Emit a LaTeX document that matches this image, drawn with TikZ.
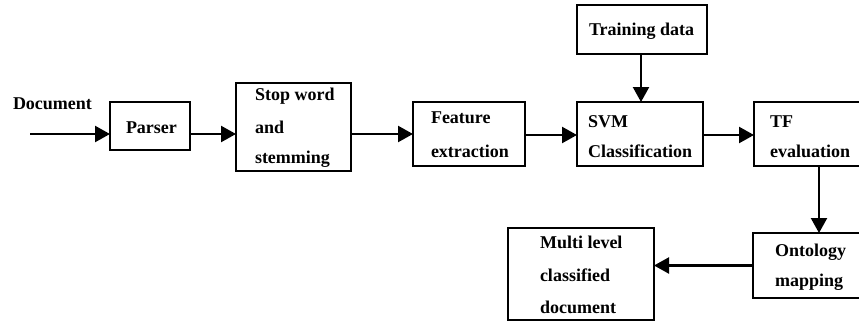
\documentclass[tikz,border=0pt]{standalone}
\usepackage{fontspec}
\setmainfont{Liberation Serif}
\usetikzlibrary{arrows.meta}
\begin{document}
\begin{tikzpicture}[x=1pt,y=-1pt,
  box/.style={draw, line width=2.6pt, minimum width=#1, inner sep=0pt, outer sep=0pt},
  txt/.style={anchor=base west, inner sep=0pt, outer sep=0pt, font=\bfseries\fontsize{18}{22}\selectfont},
  arr/.style={line width=2.3pt, -{Triangle[length=15pt,width=16pt]}}]
\useasboundingbox (0,0) rectangle (859,324);
\clip (0,0) rectangle (859,324);
% boxes
\node[box=80pt, minimum height=48pt] (parser) at (150,126) {};
\node[box=115pt, minimum height=88pt] (stop) at (293.5,127) {};
\node[box=112pt, minimum height=64pt] (feat) at (469,134) {};
\node[box=126pt, minimum height=64pt] (svm) at (640,134) {};
\node[box=130pt, minimum height=49pt] (train) at (642,29.5) {};
\node[box=132pt, minimum height=64pt] (tf) at (820,134) {};
\node[box=132pt, minimum height=65pt] (onto) at (819,265.5) {};
\node[box=146pt, minimum height=92pt] (multi) at (581,274) {};
% texts
\node[txt] (tdoc) at (13,109.5) {Document};
\node[txt] (tparser) at (126,133) {Parser};
\node[txt] (tstop1) at (255,100) {Stop word};
\node[txt] (tstop2) at (255,133) {and};
\node[txt] (tstop3) at (255,163) {stemming};
\node[txt] (tfeat1) at (431,123) {Feature};
\node[txt] (tfeat2) at (431,157) {extraction};
\node[txt] (tsvm1) at (588,127) {SVM};
\node[txt] (tsvm2) at (588,157) {Classification};
\node[txt] (ttrain) at (589,35) {Training data};
\node[txt] (ttf1) at (770,127) {TF};
\node[txt] (ttf2) at (770,157) {evaluation};
\node[txt] (tonto1) at (775,256) {Ontology};
\node[txt] (tonto2) at (775,286) {mapping};
\node[txt] (tmulti1) at (540,248) {Multi level};
\node[txt] (tmulti2) at (540,281) {classified};
\node[txt] (tmulti3) at (540,313) {document};
% connectors
\coordinate (in) at (30,134);
\draw[arr] (in) -- (in -| parser.west);
\draw[arr] (parser.east |- in) -- (in -| stop.west);
\draw[arr] (stop.east |- in) -- (in -| feat.west);
\draw[arr] ([yshift=-1pt]feat.east) -- ([yshift=-1pt]svm.west);
\draw[arr] (train.south -| 641,0) -- (svm.north -| 641,0);
\draw[arr] ([yshift=-1pt]svm.east) -- ([yshift=-1pt]tf.west);
\draw[arr] (tf.south -| onto.north) -- (onto.north);
\draw[arr] (onto.west) -- (onto.west -| multi.east);
\end{tikzpicture}
\end{document}
